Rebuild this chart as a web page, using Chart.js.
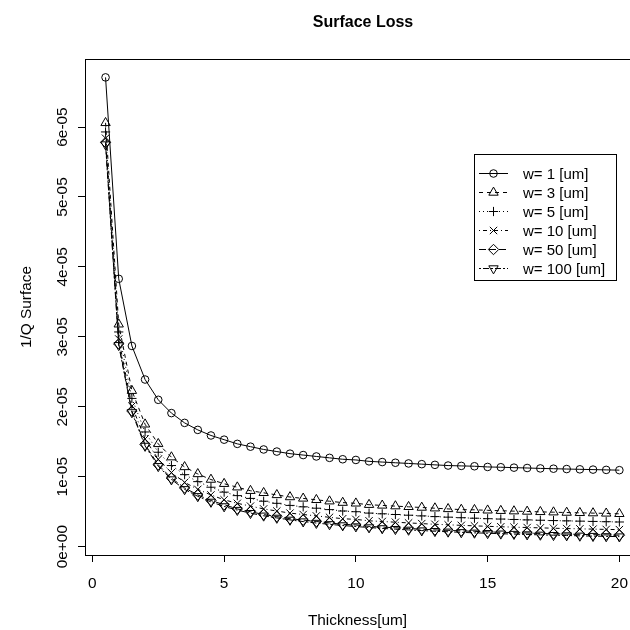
<!DOCTYPE html>
<html lang="en">
<head>
<meta charset="UTF-8">
<title>Surface Loss</title>
<script src="https://cdn.jsdelivr.net/npm/chart.js"></script>
<style>
    html, body { margin: 0; padding: 0; background: #fff; overflow: hidden; }
    #chart { display: block; }
</style>
</head>
<body>
<canvas id="chart" width="630" height="630" style="width:630px;height:630px"></canvas>
<script>
// thickness [um]
const thickness = [0.5, 1, 1.5, 2, 2.5, 3, 3.5, 4, 4.5, 5, 5.5, 6, 6.5, 7, 7.5, 8, 8.5, 9, 9.5, 10,
    10.5, 11, 11.5, 12, 12.5, 13, 13.5, 14, 14.5, 15, 15.5, 16, 16.5, 17, 17.5, 18, 18.5, 19, 19.5, 20];

// 1/Q surface in units of 1e-5
const w1 = [6.71, 3.83, 2.87, 2.39, 2.10, 1.91, 1.77, 1.67, 1.59, 1.53, 1.47, 1.43, 1.39, 1.36, 1.33, 1.31, 1.29, 1.27, 1.25, 1.24,
    1.22, 1.21, 1.20, 1.19, 1.18, 1.17, 1.16, 1.155, 1.15, 1.14, 1.136, 1.13, 1.125, 1.119, 1.115, 1.11, 1.106, 1.102, 1.098, 1.094];
const w3 = [6.06, 3.18, 2.23, 1.75, 1.47, 1.28, 1.14, 1.04, 0.96, 0.90, 0.85, 0.80, 0.77, 0.74, 0.71, 0.69, 0.67, 0.65, 0.63, 0.62,
    0.60, 0.59, 0.58, 0.57, 0.56, 0.55, 0.54, 0.53, 0.527, 0.52, 0.514, 0.508, 0.503, 0.498, 0.493, 0.488, 0.484, 0.48, 0.476, 0.47];
const w5 = [5.93, 3.07, 2.12, 1.64, 1.35, 1.16, 1.03, 0.93, 0.85, 0.78, 0.73, 0.69, 0.65, 0.62, 0.59, 0.57, 0.55, 0.53, 0.51, 0.50,
    0.48, 0.47, 0.46, 0.45, 0.44, 0.43, 0.422, 0.414, 0.407, 0.40, 0.395, 0.389, 0.383, 0.378, 0.373, 0.369, 0.365, 0.361, 0.357, 0.353];
const w10 = [5.84, 2.97, 2.01, 1.54, 1.25, 1.06, 0.92, 0.82, 0.74, 0.67, 0.62, 0.58, 0.54, 0.51, 0.48, 0.46, 0.44, 0.42, 0.40, 0.39,
    0.37, 0.36, 0.35, 0.34, 0.33, 0.32, 0.313, 0.305, 0.298, 0.291, 0.285, 0.279, 0.274, 0.269, 0.264, 0.259, 0.255, 0.251, 0.247, 0.244];
const w50 = [5.78, 2.90, 1.94, 1.46, 1.17, 0.98, 0.84, 0.74, 0.66, 0.60, 0.54, 0.50, 0.46, 0.43, 0.40, 0.38, 0.36, 0.34, 0.32, 0.31,
    0.29, 0.28, 0.27, 0.26, 0.25, 0.24, 0.233, 0.226, 0.219, 0.212, 0.206, 0.20, 0.195, 0.189, 0.185, 0.18, 0.176, 0.172, 0.168, 0.164];
const w100 = [5.75, 2.88, 1.92, 1.44, 1.15, 0.96, 0.82, 0.72, 0.64, 0.575, 0.523, 0.479, 0.442, 0.411, 0.383, 0.359, 0.338, 0.319, 0.303, 0.288,
    0.274, 0.261, 0.25, 0.24, 0.23, 0.221, 0.213, 0.205, 0.198, 0.192, 0.185, 0.18, 0.174, 0.169, 0.164, 0.16, 0.155, 0.151, 0.147, 0.144];

const seriesLabels = ['w= 1 [um]', 'w= 3 [um]', 'w= 5 [um]', 'w= 10 [um]', 'w= 50 [um]', 'w= 100 [um]'];
const xTicks = [0, 5, 10, 15, 20];
const yTicks = [0, 1e-5, 2e-5, 3e-5, 4e-5, 5e-5, 6e-5];
const yTickLabels = ['0e+00', '1e-05', '2e-05', '3e-05', '4e-05', '5e-05', '6e-05'];

const FONT = '"Liberation Sans", Arial, Helvetica, sans-serif';
const TXT = 15.4;
// R's plot region runs to x = 20.78, a little past the right edge of the picture
const X_FRAME_MAX = 20.78;

// R style lty 1..6 and pch 1..6
const dashes = [[], [4, 4], [1, 3], [1, 3, 4, 3], [7, 3], [2, 2, 6, 2]];
const markers = [
    { style: 'circle', radius: 3.8, rotation: 0 },
    { style: 'triangle', radius: 5.4, rotation: 0 },
    { style: 'cross', radius: 4.6, rotation: 0 },
    { style: 'crossRot', radius: 5.2, rotation: 0 },
    { style: 'rectRot', radius: 5.2, rotation: 0 },
    { style: 'triangle', radius: 5.4, rotation: 180 }
];

const series = [w1, w3, w5, w10, w50, w100];
const datasets = series.map((vals, i) => ({
    label: seriesLabels[i],
    data: vals.map((v, j) => ({ x: thickness[j], y: v * 1e-5 })),
    borderColor: '#000',
    borderWidth: 1,
    borderDash: dashes[i],
    pointStyle: markers[i].style,
    pointRadius: markers[i].radius,
    pointRotation: markers[i].rotation,
    pointBorderColor: '#000',
    pointBackgroundColor: 'rgba(0,0,0,0)',
    pointBorderWidth: 1,
    fill: false,
    tension: 0
}));

// box around the plot region + main title centred on it
const frame = {
    id: 'frame',
    afterDraw(chart) {
        const { ctx, chartArea: a } = chart;
        const l = Math.round(a.left) + 0.5, t = Math.round(a.top) + 0.5, b = Math.round(a.bottom) + 0.5;
        const r = Math.round(chart.scales.x.getPixelForValue(X_FRAME_MAX)) + 0.5;
        ctx.save();
        ctx.strokeStyle = '#000';
        ctx.lineWidth = 1;
        ctx.strokeRect(l, t, r - l, b - t);
        ctx.font = 'bold 16px ' + FONT;
        ctx.fillStyle = '#000';
        ctx.textAlign = 'center';
        ctx.textBaseline = 'middle';
        ctx.fillText('Surface Loss', (l + r) / 2, 23);
        ctx.restore();
    }
};

// y tick labels, parallel to the axis like R's default
const yLabels = {
    id: 'yLabels',
    afterDraw(chart) {
        const ctx = chart.ctx, sc = chart.scales.y;
        const bx = chart.chartArea.left - 17.8;
        ctx.save();
        ctx.font = TXT + 'px ' + FONT;
        ctx.fillStyle = '#000';
        ctx.textAlign = 'center';
        ctx.textBaseline = 'alphabetic';
        yTicks.forEach((v, i) => {
            ctx.save();
            ctx.translate(bx, sc.getPixelForValue(v));
            ctx.rotate(-Math.PI / 2);
            ctx.fillText(yTickLabels[i], 0, 0);
            ctx.restore();
        });
        ctx.restore();
    }
};

// legend box in R style (line sample with marker on top)
const legendBox = {
    id: 'legendBox',
    afterDraw(chart) {
        const ctx = chart.ctx;
        const x0 = 474.5, y0 = 154.5, w = 142, h = 126;
        ctx.save();
        ctx.fillStyle = '#fff';
        ctx.fillRect(x0, y0, w, h);
        ctx.strokeStyle = '#000';
        ctx.lineWidth = 1;
        ctx.strokeRect(x0, y0, w, h);
        ctx.font = '15px ' + FONT;
        ctx.textBaseline = 'middle';
        ctx.textAlign = 'left';
        chart.data.datasets.forEach((ds, i) => {
            const yy = 173.5 + i * 19;
            ctx.setLineDash(ds.borderDash);
            ctx.beginPath();
            ctx.moveTo(479, yy);
            ctx.lineTo(508, yy);
            ctx.stroke();
            ctx.setLineDash([]);
            ctx.fillStyle = 'rgba(0,0,0,0)';
            Chart.helpers.drawPoint(ctx, {
                pointStyle: ds.pointStyle, rotation: ds.pointRotation,
                radius: ds.pointRadius, borderWidth: 1
            }, 493.5, yy);
            ctx.fillStyle = '#000';
            ctx.fillText(ds.label, 523, yy + 1);
        });
        ctx.restore();
    }
};

const tickGrid = { display: true, drawOnChartArea: false, drawTicks: true, tickLength: 7, color: '#000', lineWidth: 1 };

new Chart(document.getElementById('chart'), {
    type: 'line',
    data: { datasets },
    options: {
        responsive: false,
        animation: false,
        devicePixelRatio: 1,
        layout: { autoPadding: false, padding: { top: 59, left: 0, right: 0, bottom: 0 } },
        plugins: {
            legend: { display: false },
            tooltip: { enabled: false },
            title: { display: false }
        },
        scales: {
            x: {
                type: 'linear',
                min: -0.28,
                max: 20.403,
                afterBuildTicks: s => { s.ticks = xTicks.map(v => ({ value: v })); },
                afterFit: s => { s.height = 75; s.paddingLeft = 0; s.paddingRight = 0; },
                grid: tickGrid,
                border: { display: false },
                ticks: { color: '#000', font: { family: FONT, size: TXT }, padding: 12.6, maxRotation: 0, autoSkip: false },
                title: {
                    display: true, text: 'Thickness[um]', color: '#000',
                    font: { family: FONT, size: TXT }, padding: { top: 0, bottom: 0 }
                }
            },
            y: {
                type: 'linear',
                min: -1.19e-6,
                max: 6.973e-5,
                afterBuildTicks: s => { s.ticks = yTicks.map(v => ({ value: v })); },
                afterFit: s => { s.width = 85; s.paddingTop = 0; s.paddingBottom = 0; },
                grid: tickGrid,
                border: { display: false },
                ticks: { display: false },
                title: {
                    display: true, text: '1/Q Surface', color: '#000',
                    font: { family: FONT, size: TXT }, padding: { top: 18, bottom: 0 }
                }
            }
        }
    },
    plugins: [frame, yLabels, legendBox]
});
</script>
</body>
</html>
